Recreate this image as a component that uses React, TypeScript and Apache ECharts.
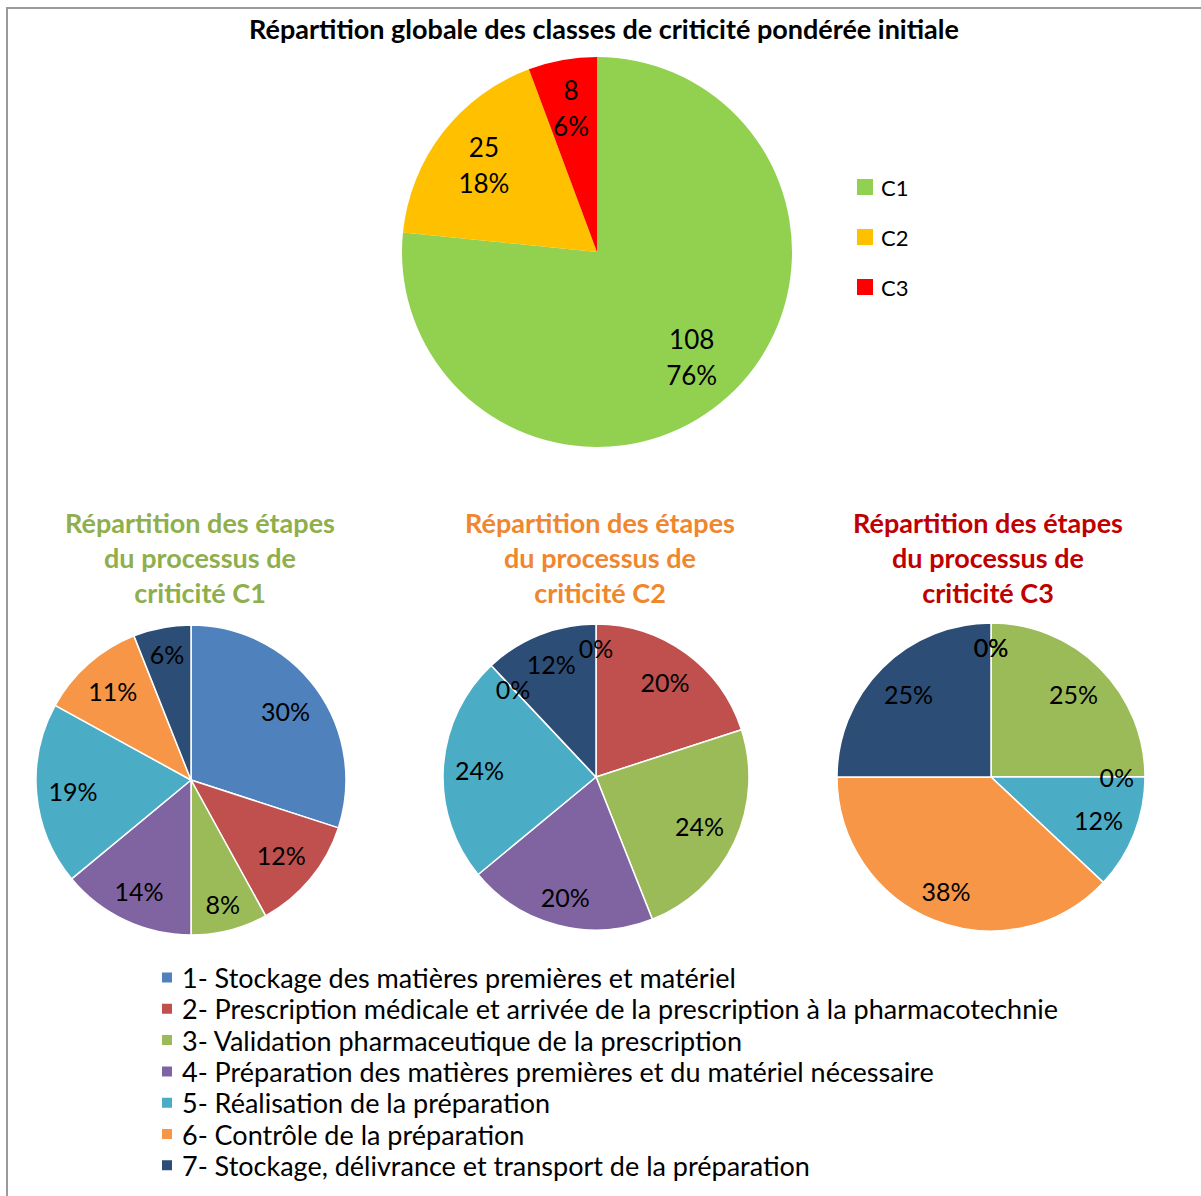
import React, { useEffect, useRef } from "react";
import * as echarts from "echarts";

// ---- data ----
const mainTitle = "Répartition globale des classes de criticité pondérée initiale";
const mainNames = ["C1", "C2", "C3"];
const mainCounts = [108, 25, 8];
const mainPercents = [76, 18, 6];
const mainColors = ["#92D050", "#FFC000", "#FF0000"];

const stepNames = [
  "1- Stockage des matières premières et matériel",
  "2- Prescription médicale et arrivée de la prescription à la pharmacotechnie",
  "3- Validation pharmaceutique de la prescription",
  "4- Préparation des matières premières et du matériel nécessaire",
  "5- Réalisation de la préparation",
  "6- Contrôle de la préparation",
  "7- Stockage, délivrance et transport de la préparation",
];
const stepColors = ["#4F81BD", "#C0504D", "#9BBB59", "#8064A2", "#4BACC6", "#F79646", "#2C4D75"];

const c1Percents = [30, 12, 8, 14, 19, 11, 6];
const c2Percents = [0, 20, 24, 20, 24, 0, 12];
const c3Percents = [0, 0, 25, 0, 12, 38, 25];

const subTitles = [
  "Répartition des étapes\ndu processus de\ncriticité C1",
  "Répartition des étapes\ndu processus de\ncriticité C2",
  "Répartition des étapes\ndu processus de\ncriticité C3",
];
const subTitleColors = ["#8EAF4C", "#F0862E", "#C00000"];

const FONT = 'Lato, "Open Sans", sans-serif';

// "best fit" style label placement: push each inside label outward so that
// its box sits a fixed inset from the pie's rim (like Excel does).
function bestFit(cx: number, cy: number, R: number, inset: number) {
  return (params: any) => {
    const r = params.labelRect;
    if (!r) return { hideOverlap: false };
    const lx = r.x + r.width / 2;
    const ly = r.y + r.height / 2;
    let vx = lx - cx;
    let vy = ly - cy;
    const d = Math.sqrt(vx * vx + vy * vy) || 1;
    vx /= d;
    vy /= d;
    const ext = (r.width * Math.abs(vx) + r.height * Math.abs(vy)) / 2;
    const target = R - inset - ext;
    return { dx: vx * (target - d), dy: vy * (target - d), hideOverlap: false, moveOverlap: false };
  };
}

function App() {
  const ref = useRef<HTMLDivElement>(null);
  useEffect(() => {
    document.body.style.margin = "0";
    if (!ref.current) return;
    const chart = echarts.init(ref.current, null, { renderer: "svg" });

    const mainCenter = [597, 252];
    const mainR = 195;
    const smallPies = [
      { values: c1Percents, center: [191, 780], r: 155 },
      { values: c2Percents, center: [596, 777], r: 153 },
      { values: c3Percents, center: [991, 777], r: 154 },
    ];

    const series: any[] = [];
    series.push({
      type: "pie",
      name: "main",
      center: mainCenter,
      radius: [0, mainR],
      startAngle: 90,
      clockwise: true,
      emphasis: { disabled: true },
      labelLine: { show: false },
      itemStyle: { borderWidth: 0 },
      label: {
        show: true,
        position: "inside",
        fontFamily: FONT,
        fontSize: 26,
        lineHeight: 36,
        color: "#000",
        formatter: (p: any) => `${mainCounts[p.dataIndex]}\n${mainPercents[p.dataIndex]}%`,
      },
      labelLayout: bestFit(mainCenter[0], mainCenter[1], mainR, 10),
      data: mainNames.map((n, i) => ({ name: n, value: mainCounts[i], itemStyle: { color: mainColors[i] } })),
    });
    smallPies.forEach((p, k) => {
      series.push({
        type: "pie",
        name: "s" + k,
        center: p.center,
        radius: [0, p.r],
        startAngle: 90,
        clockwise: true,
        emphasis: { disabled: true },
        labelLine: { show: false },
        itemStyle: { borderColor: "#ffffff", borderWidth: 1.5 },
        label: {
          show: true,
          position: "inside",
          fontFamily: FONT,
          fontSize: 25,
          color: "#000",
          formatter: (q: any) => `${p.values[q.dataIndex]}%`,
        },
        labelLayout: bestFit(p.center[0], p.center[1], p.r, 11),
        data: stepNames.map((n, i) => ({ name: n, value: p.values[i], itemStyle: { color: stepColors[i] } })),
      });
    });

    const subX = [200, 600, 988];

    chart.setOption({
      animation: false,
      backgroundColor: "#ffffff",
      legend: [
        {
          data: mainNames,
          orient: "vertical",
          left: 852,
          top: 171,
          itemWidth: 16,
          itemHeight: 16,
          itemGap: 28,
          icon: "rect",
          selectedMode: false,
          textStyle: { fontFamily: FONT, fontSize: 22, color: "#000", padding: [0, 0, 0, 3] },
        },
        {
          data: stepNames,
          orient: "vertical",
          left: 155,
          top: 959,
          itemWidth: 12,
          itemHeight: 12,
          itemGap: 4.3,
          icon: "rect",
          selectedMode: false,
          textStyle: { fontFamily: FONT, fontSize: 27, color: "#000", padding: [0, 0, 0, 4] },
        },
      ],
      graphic: [
        {
          type: "rect",
          shape: { x: 7, y: 8, width: 1220, height: 1220 },
          style: { fill: "none", stroke: "#9a9a9a", lineWidth: 2 },
          silent: true,
        },
        {
          type: "text",
          x: 604,
          y: 28,
          style: {
            text: mainTitle,
            align: "center",
            verticalAlign: "middle",
            fontFamily: FONT,
            fontWeight: "bold",
            fontSize: 27,
            fill: "#000",
          },
        },
        ...subTitles.map((t, i) => ({
          type: "text",
          x: subX[i],
          y: 557,
          style: {
            text: t,
            align: "center",
            verticalAlign: "middle",
            fontFamily: FONT,
            fontWeight: "bold",
            fontSize: 27,
            lineHeight: 35,
            fill: subTitleColors[i],
          },
        })),
      ],
      series,
    });
    return () => chart.dispose();
  }, []);
  return <div ref={ref} style={{ width: 1201, height: 1196 }} />;
}

export default App;
